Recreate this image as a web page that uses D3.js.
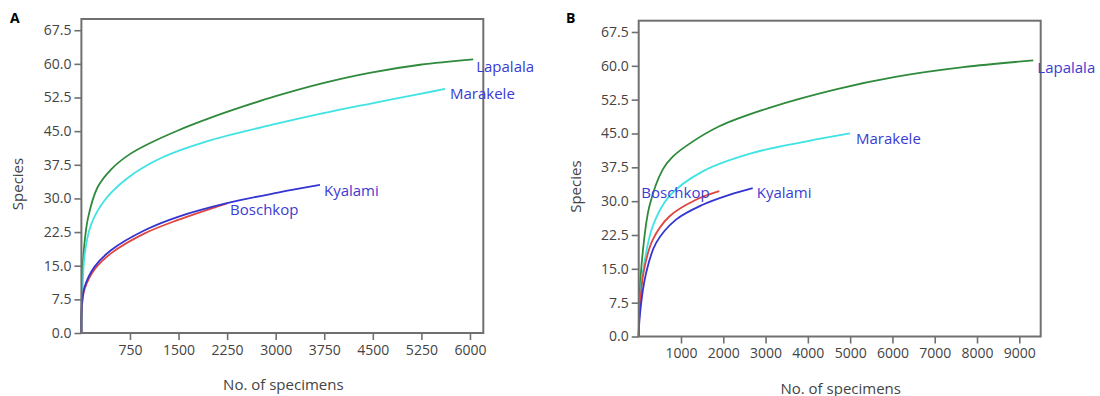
<!DOCTYPE html>
<html>
<head>
<meta charset="utf-8">
<script src="https://cdn.jsdelivr.net/npm/d3@7"></script>
<style>
  html, body { margin: 0; padding: 0; background: #fff; }
  svg { display: block; font-family: "Open Sans", "Noto Sans", sans-serif; }
</style>
</head>
<body>
<svg id="chart" width="1100" height="396"></svg>
<script>
// Rarefaction curves: species accumulated vs. number of specimens sampled.
const sites = ["Lapalala", "Marakele", "Kyalami", "Boschkop"];
const siteColors = ["#2f8a3c", "#3fe3e3", "#3434d2", "#e0453f"];

// Panel A
const aLapalalaN = [0, 10, 35, 100, 250, 460, 720, 1000, 1500, 2000, 2500, 3000, 3700, 4450, 5230, 6050];
const aLapalalaS = [0, 11, 18, 25.5, 32.5, 36.5, 39.6, 41.9, 45.2, 48.0, 50.5, 52.8, 55.6, 58.0, 59.8, 61.0];
const aMarakeleN = [0, 12, 50, 150, 360, 720, 1230, 2000, 3000, 3700, 4450, 5230, 5615];
const aMarakeleS = [0, 7, 17.5, 24.2, 29.6, 34.6, 39.0, 43.0, 46.6, 48.9, 51.1, 53.3, 54.4];
const aKyalamiN = [0, 8, 50, 205, 462, 977, 1492, 2264, 3036, 3684];
const aKyalamiS = [0, 6.5, 10.3, 14.8, 18.5, 22.9, 25.9, 29.0, 31.3, 33.0];
const aBoschkopN = [0, 8, 50, 205, 462, 977, 1492, 2250];
const aBoschkopS = [0, 6.0, 9.8, 14.2, 17.8, 22.2, 25.2, 28.9];

// Panel B
const bLapalalaN = [0, 20, 94, 251, 567, 800, 1118, 1906, 3088, 4665, 6101, 7676, 9331];
const bLapalalaS = [0, 9, 18.5, 28.8, 37.0, 39.8, 42.2, 46.6, 50.7, 54.8, 57.6, 59.7, 61.2];
const bMarakeleN = [0, 20, 94, 331, 724, 1513, 2696, 4000, 4997];
const bMarakeleS = [0, 6, 14.0, 24.4, 31.1, 36.6, 40.7, 43.3, 45.0];
const bKyalamiN = [0, 30, 173, 409, 882, 1513, 2144, 2696];
const bKyalamiS = [0, 5, 14.0, 20.7, 25.9, 29.2, 31.4, 32.9];
const bBoschkopN = [0, 25, 120, 331, 724, 1355, 1906];
const bBoschkopS = [0, 6, 14.5, 21.4, 26.6, 30.3, 32.2];

const yTicks = [0, 7.5, 15, 22.5, 30, 37.5, 45, 52.5, 60, 67.5];
const aXTicks = [750, 1500, 2250, 3000, 3750, 4500, 5250, 6000];
const bXTicks = [1000, 2000, 3000, 4000, 5000, 6000, 7000, 8000, 9000];

const panels = [
  {
    letter: "A", xMax: 6206, xTicks: aXTicks,
    box: { left: 81.4, right: 483.3, top: 19, bottom: 333 },
    series: [[aLapalalaN, aLapalalaS], [aMarakeleN, aMarakeleS], [aKyalamiN, aKyalamiS], [aBoschkopN, aBoschkopS]],
    labelOffsets: [[3, 7], [5, 5], [4, 6], [3, 6]],
    letterPos: [10, 23]
  },
  {
    letter: "B", xMax: 9506, xTicks: bXTicks,
    box: { left: 638.7, right: 1040.7, top: 20.7, bottom: 336.5 },
    series: [[bLapalalaN, bLapalalaS], [bMarakeleN, bMarakeleS], [bKyalamiN, bKyalamiS], [bBoschkopN, bBoschkopS]],
    labelOffsets: [[4, 7], [6, 5], [4, 5], [-78, 2]],
    letterPos: [566, 23]
  }
];

// Drawing order: Boschkop sits under Kyalami so the blue reads over the red
const drawOrder = [0, 1, 3, 2];

const svg = d3.select("#chart");
const axisColor = "#707070";
const textColor = "#444";
const labelColor = "#3b3bd4";

panels.forEach(p => {
  const b = p.box;
  const x = d3.scaleLinear().domain([0, p.xMax]).range([b.left, b.right]);
  const y = d3.scaleLinear().domain([0, 70]).range([b.bottom, b.top]);
  const g = svg.append("g");

  // curves
  const line = d3.line().x(d => x(d[0])).y(d => y(d[1])).curve(d3.curveCatmullRom.alpha(0.5));
  drawOrder.forEach(i => {
    const [ns, ss] = p.series[i];
    const pts = ns.map((n, k) => [n, ss[k]]);
    g.append("path").datum(pts)
      .attr("d", line)
      .attr("fill", "none")
      .attr("stroke", siteColors[i])
      .attr("stroke-width", 1.8);
  });

  // frame
  g.append("rect")
    .attr("x", b.left).attr("y", b.top)
    .attr("width", b.right - b.left).attr("height", b.bottom - b.top)
    .attr("fill", "none").attr("stroke", axisColor).attr("stroke-width", 2);

  // axes
  const yAxis = g.append("g").attr("transform", `translate(${b.left},0)`)
    .call(d3.axisLeft(y).tickValues(yTicks).tickFormat(d3.format(".1f")).tickSize(7).tickPadding(3));
  const xAxis = g.append("g").attr("transform", `translate(0,${b.bottom})`)
    .call(d3.axisBottom(x).tickValues(p.xTicks).tickFormat(d3.format("d")).tickSize(7).tickPadding(5));
  [yAxis, xAxis].forEach(ax => {
    ax.select(".domain").remove();
    ax.selectAll(".tick line").attr("stroke", axisColor).attr("stroke-width", 1.6);
    ax.selectAll(".tick text").attr("fill", textColor).style("font-size", "14px")
      .style("font-family", "'Open Sans', 'Noto Sans', sans-serif");
  });

  // axis titles
  g.append("text")
    .attr("transform", `translate(${b.left - 58},${(b.top + b.bottom) / 2 + 8}) rotate(-90)`)
    .attr("text-anchor", "middle").attr("fill", textColor).style("font-size", "15px")
    .text("Species");
  g.append("text")
    .attr("x", (b.left + b.right) / 2 + 1).attr("y", b.bottom + 57)
    .attr("text-anchor", "middle").attr("fill", textColor).style("font-size", "15px")
    .text("No. of specimens");

  // panel letter
  g.append("text")
    .attr("x", p.letterPos[0]).attr("y", p.letterPos[1])
    .attr("fill", "#000").style("font-size", "14px").style("font-weight", "bold")
    .text(p.letter);

  // site labels at curve ends
  p.series.forEach(([ns, ss], i) => {
    const last = ns.length - 1;
    const [dx, dy] = p.labelOffsets[i];
    g.append("text")
      .attr("x", x(ns[last]) + dx).attr("y", y(ss[last]) + dy)
      .attr("dy", "0.35em")
      .attr("fill", labelColor).style("font-size", "15px")
      .text(sites[i]);
  });
});
</script>
</body>
</html>
